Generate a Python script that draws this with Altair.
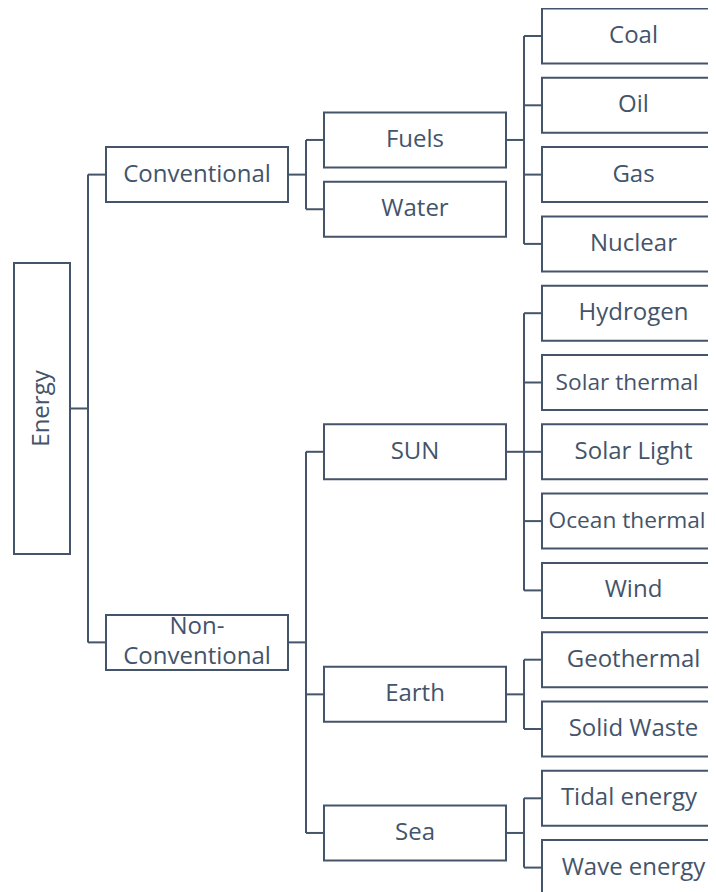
import altair as alt
import pandas as pd

# ---- tree content ----
names = ["Energy", "Conventional", "Non-Conventional", "Fuels", "Water", "SUN", "Earth", "Sea",
         "Coal", "Oil", "Gas", "Nuclear",
         "Hydrogen", "Solar thermal", "Solar Light", "Ocean thermal", "Wind",
         "Geothermal", "Solid Waste", "Tidal energy", "Wave energy"]
parents = ["", "Energy", "Energy", "Conventional", "Conventional",
           "Non-Conventional", "Non-Conventional", "Non-Conventional",
           "Fuels", "Fuels", "Fuels", "Fuels",
           "SUN", "SUN", "SUN", "SUN", "SUN",
           "Earth", "Earth", "Sea", "Sea"]
display_labels = ["Energy", "Conventional", "Non-\nConventional", "Fuels", "Water", "SUN", "Earth", "Sea",
                  "Coal", "Oil", "Gas", "Nuclear",
                  "Hydrogen", "Solar thermal", "Solar Light", "Ocean thermal", "Wind",
                  "Geothermal", "Solid Waste", "Tidal energy", "Wave energy"]

# ---- layout (style constants) ----
W, H = 700, 884
PITCH = 69.3          # vertical distance between leaf rows
TOP = 28              # centre of first leaf row
BOX_H = 55
ROOT_H = 291
LEFT0 = 6
LEVEL_W = [56, 182, 182, 183]
GAP = 36
COLOR = "#44546A"
FONT = "Open Sans"
FSIZE = 24
LINE_H = 30
CHAR_EM = 0.535        # rough average glyph width (em), to keep text inside the view
INSET = 4

children = {n: [] for n in names}
for n, p in zip(names, parents):
    if p:
        children[p].append(n)

depth = {}
for n, p in zip(names, parents):
    d, q = 0, p
    while q:
        d += 1
        q = parents[names.index(q)]
    depth[n] = d
max_depth = max(depth.values())

slot = {}
counter = [0]


def place(node, prev=None):
    kids = children[node]
    if kids:
        pv = None
        for k in kids:
            place(k, pv)
            pv = k
        slot[node] = (slot[kids[0]] + slot[kids[-1]]) / 2
    elif depth[node] == max_depth:
        slot[node] = counter[0]
        counter[0] += 1
    else:
        slot[node] = slot[prev] + 1 if prev else counter[0]


place(names[0])

lefts = [LEFT0]
for i in range(1, max_depth + 1):
    lefts.append(lefts[-1] + LEVEL_W[i - 1] + GAP)

rows = []
for n, lab in zip(names, display_labels):
    d = depth[n]
    cy = TOP + slot[n] * PITCH
    h = ROOT_H if d == 0 else BOX_H
    lines = lab.split("\n")
    x0, x1 = lefts[d], lefts[d] + LEVEL_W[d]
    cx = (x0 + x1) / 2
    nchar = max(len(s) for s in lines)
    avail = min(x1, W) - x0 - 2 * INSET
    fs = FSIZE
    if d > 0 and nchar * CHAR_EM * FSIZE > avail:
        fs = round(avail / (nchar * CHAR_EM), 1)
    est_w = nchar * CHAR_EM * fs
    tx = min(cx, W - INSET / 2 - est_w / 2)
    rows.append(dict(name=n, label=lab, x=x0, x2=x1, cx=cx, tx=tx, cy=cy, fs=fs,
                     ty=cy - (len(lines) - 1) * LINE_H / 2,
                     y=cy - h / 2, y2=cy + h / 2, root=(d == 0)))
boxes = pd.DataFrame(rows)
bx = boxes.set_index("name")

segs = []
for n in names:
    kids = children[n]
    if not kids:
        continue
    r = bx.loc[n]
    vx = r.x2 + GAP / 2
    segs.append(dict(x=r.x2, x2=vx, y=r.cy, y2=r.cy))
    ys = [bx.loc[k].cy for k in kids]
    segs.append(dict(x=vx, x2=vx, y=min(ys), y2=max(ys)))
    for k in kids:
        c = bx.loc[k]
        segs.append(dict(x=vx, x2=c.x, y=c.cy, y2=c.cy))
segdf = pd.DataFrame(segs)

xs = alt.Scale(domain=[0, W], nice=False, zero=False)
ys_ = alt.Scale(domain=[0, H], nice=False, zero=False, reverse=True)

rules = alt.Chart(segdf).mark_rule(color=COLOR, strokeWidth=2, clip=True).encode(
    x=alt.X("x:Q", scale=xs, axis=None), x2="x2:Q",
    y=alt.Y("y:Q", scale=ys_, axis=None), y2="y2:Q")

rects = alt.Chart(boxes).mark_rect(fill="white", stroke=COLOR, strokeWidth=2, clip=True).encode(
    x=alt.X("x:Q", scale=xs, axis=None), x2="x2:Q",
    y=alt.Y("y:Q", scale=ys_, axis=None), y2="y2:Q")

texts = alt.Chart(boxes[~boxes.root]).mark_text(
    font=FONT, color=COLOR, align="center", baseline="middle",
    lineBreak="\n", lineHeight=LINE_H).encode(
    x=alt.X("tx:Q", scale=xs, axis=None), y=alt.Y("ty:Q", scale=ys_, axis=None),
    size=alt.Size("fs:Q", scale=None), text="label:N")

root_text = alt.Chart(boxes[boxes.root]).mark_text(
    font=FONT, fontSize=FSIZE, color=COLOR, align="center", baseline="middle", angle=270).encode(
    x=alt.X("cx:Q", scale=xs, axis=None), y=alt.Y("cy:Q", scale=ys_, axis=None), text="label:N")

chart = alt.layer(rules, rects, texts, root_text).properties(
    width=W, height=H, padding=0, autosize=alt.AutoSizeParams(type="none")
).configure_view(stroke=None)

chart.save("out.html", embed_options={"renderer": "svg", "actions": False})
